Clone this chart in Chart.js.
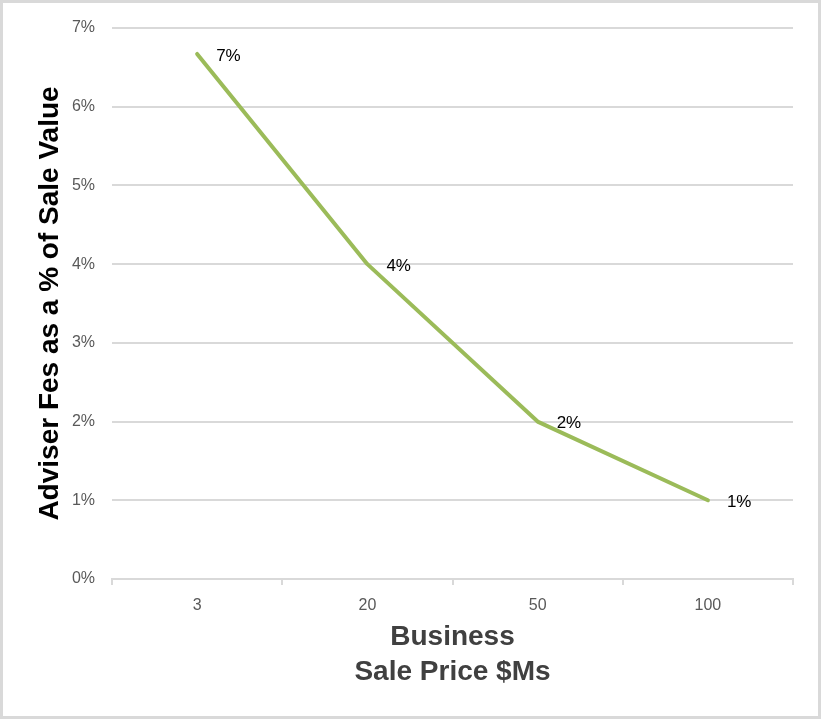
<!DOCTYPE html>
<html>
<head>
<meta charset="utf-8">
<script src="https://cdn.jsdelivr.net/npm/chart.js@4"></script>
<style>
  html, body { margin: 0; padding: 0; background: #fff; }
  #wrap { position: relative; width: 821px; height: 719px; }
</style>
</head>
<body>
<div id="wrap"><canvas id="chart" width="821" height="719"></canvas></div>
<script>
const categories = ["3", "20", "50", "100"];
const feePercent = [6.67, 4, 2, 1];
const yTicks = [0, 1, 2, 3, 4, 5, 6, 7];

const lineColor = "#9bbb59";
const gridColor = "#d9d9d9";

// white background + thin grey frame round the whole picture
const frame = {
  id: "frame",
  beforeDraw(c) {
    const ctx = c.ctx;
    ctx.save();
    ctx.fillStyle = "#fff";
    ctx.fillRect(0, 0, c.width, c.height);
    ctx.restore();
  },
  afterDraw(c) {
    const ctx = c.ctx;
    ctx.save();
    ctx.strokeStyle = gridColor;
    ctx.lineWidth = 3;
    ctx.strokeRect(1.5, 1.5, c.width - 3, c.height - 3);
    ctx.restore();
  },
};

// value labels to the right of each point
const pointLabels = {
  id: "pointLabels",
  afterDatasetsDraw(c) {
    const ctx = c.ctx;
    const meta = c.getDatasetMeta(0);
    ctx.save();
    ctx.font = "17px 'Liberation Sans', Arial, sans-serif";
    ctx.fillStyle = "#000";
    ctx.textAlign = "left";
    ctx.textBaseline = "middle";
    meta.data.forEach((pt, i) => {
      const txt = Math.round(feePercent[i]) + "%";
      ctx.fillText(txt, pt.x + 19, pt.y + 2);
    });
    ctx.restore();
  },
};

new Chart(document.getElementById("chart"), {
  type: "line",
  data: {
    labels: categories,
    datasets: [{
      data: feePercent,
      borderColor: lineColor,
      borderWidth: 4,
      borderCapStyle: "round",
      borderJoinStyle: "round",
      pointRadius: 0,
      pointHoverRadius: 0,
      tension: 0,
      fill: false,
    }],
  },
  options: {
    responsive: false,
    animation: false,
    events: [],
    layout: { padding: { top: 28, right: 28, bottom: 0, left: 0 } },
    plugins: {
      legend: { display: false },
      tooltip: { enabled: false },
    },
    scales: {
      x: {
        offset: true,
        afterFit(s) { s.height = 140; },
        grid: {
          offset: true,
          drawOnChartArea: false,
          drawTicks: true,
          tickLength: 6,
          color: gridColor,
          lineWidth: 2,
        },
        border: { display: true, color: gridColor, width: 2 },
        ticks: {
          padding: 11,
          color: "#595959",
          font: { family: "'Liberation Sans', Arial, sans-serif", size: 16 },
        },
        title: {
          display: true,
          text: ["Business", "Sale Price $Ms"],
          color: "#404040",
          font: { family: "'Liberation Sans', Arial, sans-serif", size: 28, weight: "bold", lineHeight: 1.25 },
          padding: { top: 0, bottom: 29 },
        },
      },
      y: {
        min: 0,
        max: 7,
        afterFit(s) { s.width = 112; },
        afterBuildTicks(s) { s.ticks = yTicks.map((v) => ({ value: v })); },
        grid: { color: gridColor, lineWidth: 2, drawTicks: false },
        border: { display: false },
        ticks: {
          padding: 17,
          color: "#595959",
          font: { family: "'Liberation Sans', Arial, sans-serif", size: 16 },
          callback: (v) => v + "%",
        },
        title: {
          display: true,
          text: "Adviser Fes as a % of Sale Value",
          color: "#000",
          font: { family: "'Liberation Sans', Arial, sans-serif", size: 28, weight: "bold" },
          padding: { top: 33, bottom: 0 },
        },
      },
    },
  },
  plugins: [frame, pointLabels],
});
</script>
</body>
</html>
